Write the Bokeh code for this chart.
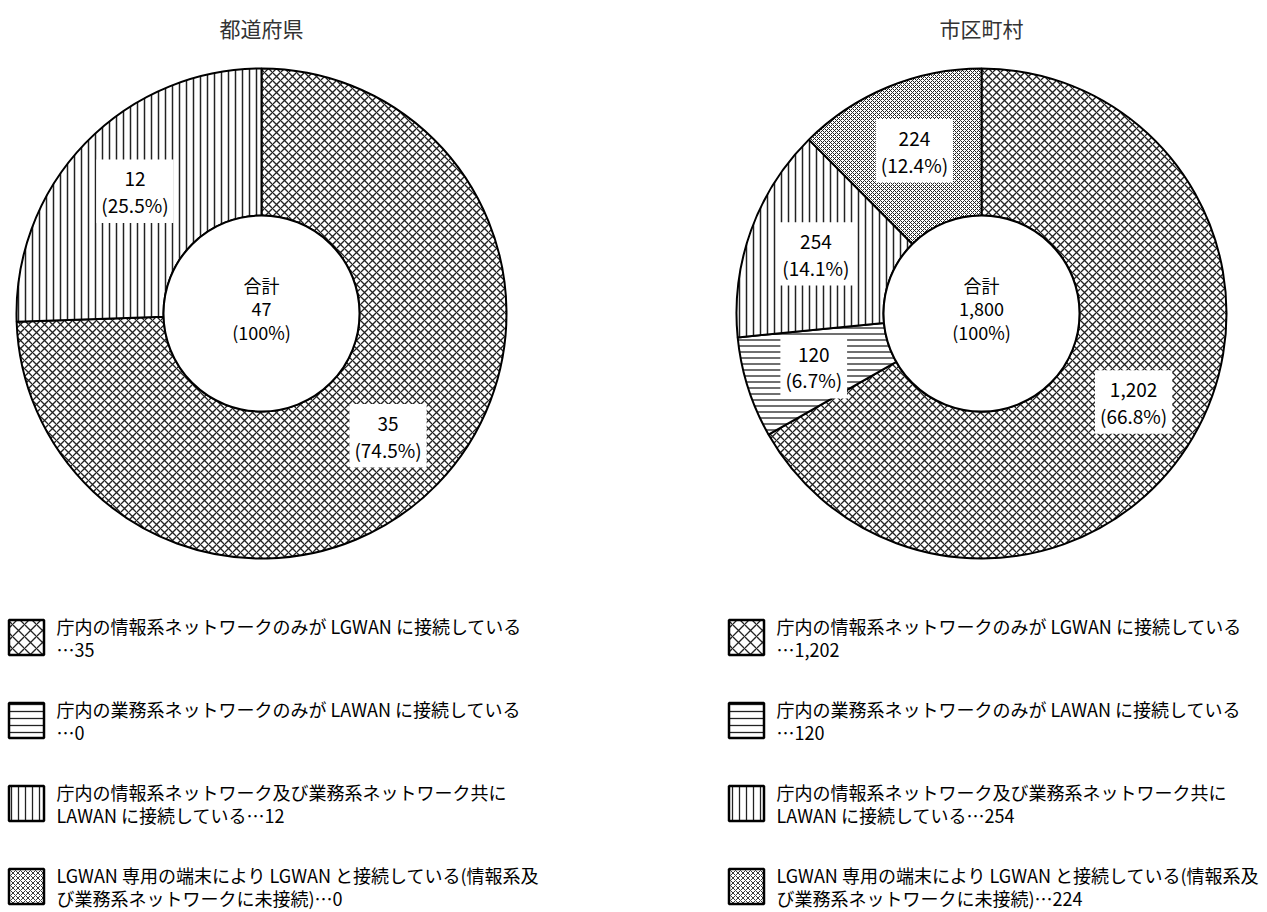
import math
from bokeh.plotting import figure
from bokeh.models import Range1d, ColumnDataSource
from bokeh.core.properties import value
from bokeh.embed import file_html
from bokeh.resources import INLINE

# ---- data ----
titles = ["都道府県", "市区町村"]
categories = [
    "庁内の情報系ネットワークのみが LGWAN に接続している\n…",
    "庁内の業務系ネットワークのみが LAWAN に接続している\n…",
    "庁内の情報系ネットワーク及び業務系ネットワーク共に\nLAWAN に接続している…",
    "LGWAN 専用の端末により LGWAN と接続している(情報系及\nび業務系ネットワークに未接続)…",
]
pref_values = [35, 0, 12, 0]
muni_values = [1202, 120, 254, 224]
series = [pref_values, muni_values]

# ---- styles ----
hatches = ["x", "-", "|", "x"]
hatch_scales = [8, 6, 7, 4]
hatch_weights = [1.3, 1.3, 1.5, 1.0]
legend_hatch_scales = [12, 7, 7, 5]
legend_hatch_weights = [1.3, 1.3, 1.3, 0.9]
FONT = "Noto Sans CJK JP"

W, H = 1267, 912
p = figure(width=W, height=H, x_range=Range1d(0, W), y_range=Range1d(0, H),
           output_backend="svg", toolbar_location=None, min_border=0)
p.axis.visible = False
p.grid.visible = False
p.outline_line_color = None
p.background_fill_color = "white"
p.border_fill_color = "white"

centers_x = [261, 981]
center_y = 599
R_OUT, R_IN = 245, 98
LABEL_R = 176

def fmt(v):
    return f"{v:,}"

for k, vals in enumerate(series):
    cx = centers_x[k]
    total = sum(vals)
    cum = 0
    starts, ends = [], []
    for v in vals:
        starts.append(math.pi / 2 - 2 * math.pi * cum / total)
        cum += v
        ends.append(math.pi / 2 - 2 * math.pi * cum / total)
    for i, v in enumerate(vals):
        if v == 0:
            continue
        p.annular_wedge(x=cx, y=center_y, inner_radius=R_IN, outer_radius=R_OUT,
                        start_angle=starts[i], end_angle=ends[i], direction="clock",
                        fill_color="white", line_color="black", line_width=2,
                        hatch_pattern=hatches[i], hatch_scale=hatch_scales[i],
                        hatch_weight=hatch_weights[i], hatch_color="#222222")
    # inner hole outline
    p.circle(x=cx, y=center_y, radius=R_IN, fill_color="white",
             line_color="black", line_width=2)
    # slice labels
    lx, ly, lt = [], [], []
    for i, v in enumerate(vals):
        if v == 0:
            continue
        mid = (starts[i] + ends[i]) / 2
        lx.append(cx + LABEL_R * math.cos(mid))
        ly.append(center_y + LABEL_R * math.sin(mid))
        lt.append(f"{fmt(v)}\n({v / total * 100:.1f}%)")
    src = ColumnDataSource(dict(x=lx, y=ly, t=lt))
    p.text(x="x", y="y", text="t", source=src, text_align="center",
           text_baseline="middle", text_font=value(FONT), text_font_size="19px",
           text_color="black", text_line_height=0.98,
           background_fill_color="white", padding=5)
    # center text
    p.text(x=[cx], y=[center_y + 5], text=[f"合計\n{fmt(total)}\n(100%)"],
           text_align="center", text_baseline="middle", text_font=value(FONT),
           text_font_size="18px", text_color="black", text_line_height=0.92)
    # title
    p.text(x=[cx], y=[885], text=[titles[k]], text_align="center",
           text_baseline="middle", text_font=value(FONT), text_font_size="21px",
           text_color="#333333")

# legends
legend_sw_x = [26, 746]
legend_tx_x = [56, 776]
row_y = [275, 192, 109, 26]
for k, vals in enumerate(series):
    for i, cat in enumerate(categories):
        p.rect(x=legend_sw_x[k], y=row_y[i], width=35, height=35,
               fill_color="white", line_color="black", line_width=2.5,
               hatch_pattern=hatches[i], hatch_scale=legend_hatch_scales[i],
               hatch_weight=legend_hatch_weights[i], hatch_color="#222222")
        p.text(x=[legend_tx_x[k]], y=[row_y[i]], text=[cat + fmt(vals[i])],
               text_align="left", text_baseline="middle", text_font=value(FONT),
               text_font_size="18px", text_color="black", text_line_height=0.9)

open("out.html", "w").write(file_html(p, INLINE))
